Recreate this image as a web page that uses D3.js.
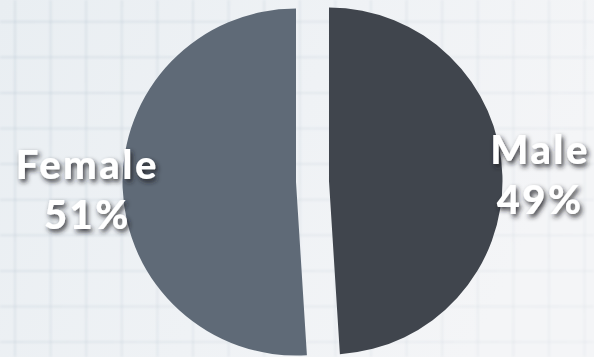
<!DOCTYPE html>
<html>
<head>
<meta charset="utf-8">
<script src="https://cdn.jsdelivr.net/npm/d3@7"></script>
<style>
  html, body { margin: 0; padding: 0; background: #eef1f4; }
  svg { display: block; }
</style>
</head>
<body>
<svg id="chart" width="594" height="357"></svg>
<script>
// Gender split
const categories = ["Male", "Female"];
const shares = [49, 51];
const sliceColors = ["#40454d", "#5f6a77"];

const width = 594, height = 357;
const cx = 312.5, cy = 181.5;
const radius = 173.5;
const explode = 16.5;
const labelRadius = 210;
const gridStep = 35.6;
const tracking = 2.5;

const svg = d3.select("#chart");
const defs = svg.append("defs");

// paper background: soft blue-grey fading to white on the right
const bg = defs.append("linearGradient").attr("id", "bg")
  .attr("x1", "0").attr("y1", "0").attr("x2", "1").attr("y2", "0.3");
bg.append("stop").attr("offset", "0").attr("stop-color", "#e9eef2");
bg.append("stop").attr("offset", "0.55").attr("stop-color", "#eff2f5");
bg.append("stop").attr("offset", "1").attr("stop-color", "#f4f5f7");

// grid fades towards the right edge
const gridFade = defs.append("linearGradient").attr("id", "gridFade")
  .attr("gradientUnits", "userSpaceOnUse")
  .attr("x1", 0).attr("y1", 0).attr("x2", width).attr("y2", height);
gridFade.append("stop").attr("offset", "0").attr("stop-color", "#b4c3cf").attr("stop-opacity", 0.32);
gridFade.append("stop").attr("offset", "1").attr("stop-color", "#c9d2da").attr("stop-opacity", 0.18);

const soft = defs.append("filter").attr("id", "soft");
soft.append("feGaussianBlur").attr("stdDeviation", 0.8);

const shadow = defs.append("filter").attr("id", "txtShadow")
  .attr("x", "-20%").attr("y", "-30%").attr("width", "150%").attr("height", "170%");
shadow.append("feDropShadow")
  .attr("dx", 2).attr("dy", 3).attr("stdDeviation", 2.5)
  .attr("flood-color", "#1a1d21").attr("flood-opacity", 0.9);

svg.append("rect").attr("width", width).attr("height", height).attr("fill", "url(#bg)");

// graph-paper grid
const grid = svg.append("g")
  .attr("stroke", "url(#gridFade)")
  .attr("stroke-width", 2)
  .attr("filter", "url(#soft)");
grid.selectAll("path.v").data(d3.range(15, width, gridStep)).join("path")
  .attr("class", "v").attr("d", d => `M${d},0V${height}`);
grid.selectAll("path.h").data(d3.range(21.7, height, gridStep)).join("path")
  .attr("class", "h").attr("d", d => `M0,${d}H${width}`);

const pie = d3.pie().sort(null).startAngle(0).endAngle(2 * Math.PI);
const arcs = pie(shares);
const arc = d3.arc().innerRadius(0).outerRadius(radius);
const labelArc = d3.arc().innerRadius(labelRadius).outerRadius(labelRadius);

const shift = d => {
  const a = (d.startAngle + d.endAngle) / 2;
  return [Math.sin(a) * explode, -Math.cos(a) * explode];
};

const g = svg.append("g").attr("transform", `translate(${cx},${cy})`);

g.selectAll("path.slice").data(arcs).join("path")
  .attr("class", "slice")
  .attr("d", arc)
  .attr("fill", (d, i) => sliceColors[i])
  .attr("transform", d => `translate(${shift(d)})`);

// two-line label: name, then share
const labels = g.selectAll("text.label").data(arcs).join("text")
  .attr("class", "label")
  .attr("transform", d => {
    const [sx, sy] = shift(d);
    const [lx, ly] = labelArc.centroid(d);
    return `translate(${lx + sx},${ly + sy})`;
  })
  .attr("filter", "url(#txtShadow)")
  .attr("text-anchor", "middle")
  .attr("fill", "#ffffff")
  .attr("font-family", "Lato, sans-serif")
  .attr("font-weight", 900)
  .attr("font-size", 40)
  .attr("letter-spacing", tracking);

// half the trailing tracking is added back so the words stay centred
labels.append("tspan")
  .attr("x", tracking / 2).attr("y", -10)
  .text((d, i) => categories[i]);
labels.append("tspan")
  .attr("x", tracking / 2).attr("y", 40)
  .text(d => d.data + "%");
</script>
</body>
</html>
